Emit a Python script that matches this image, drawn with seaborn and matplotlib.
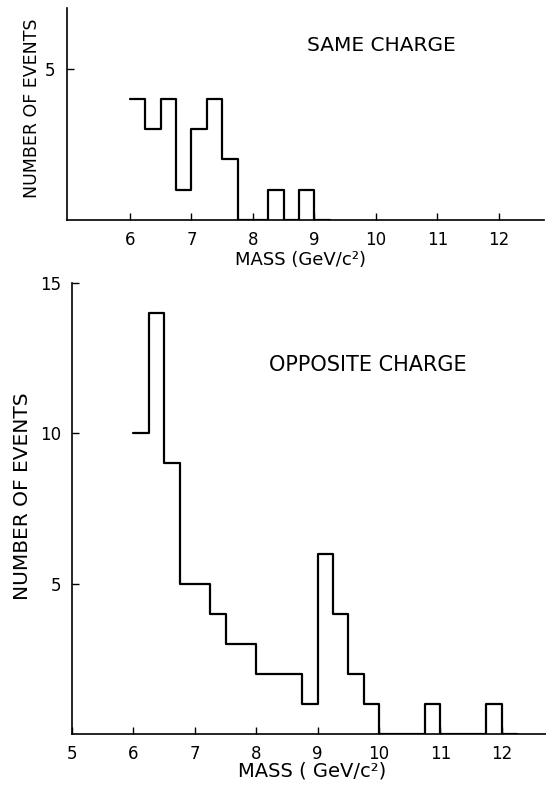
import numpy as np
import pandas as pd
import matplotlib
matplotlib.use("Agg")
import matplotlib.pyplot as plt
import seaborn as sns

# Lower edges of the 0.25 GeV/c^2 mass bins (last entry closes the histogram)
same_bin_lo = [6.00, 6.25, 6.50, 6.75, 7.00, 7.25, 7.50, 7.75, 8.00, 8.25,
               8.50, 8.75, 9.00]
same_counts = [4, 3, 4, 1, 3, 4, 2, 0, 0, 1, 0, 1, 0]

opp_bin_lo = [6.00, 6.25, 6.50, 6.75, 7.00, 7.25, 7.50, 7.75, 8.00, 8.25,
              8.50, 8.75, 9.00, 9.25, 9.50, 9.75, 10.00, 10.25, 10.50, 10.75,
              11.00, 11.25, 11.50, 11.75, 12.00]
opp_counts = [10, 14, 9, 5, 5, 4, 3, 3, 2, 2,
              2, 1, 6, 4, 2, 1, 0, 0, 0, 1,
              0, 0, 0, 1, 0]

bin_width = 0.25
same_ticks = [6, 7, 8, 9, 10, 11, 12]
opp_ticks = [5, 6, 7, 8, 9, 10, 11, 12]

sns.set_theme(style="ticks")
plt.rcParams["font.family"] = ["DejaVu Sans"]
plt.rcParams["text.color"] = "black"
plt.rcParams["axes.labelcolor"] = "black"

fig = plt.figure(figsize=(5.46, 7.92), dpi=100)
ax_top = fig.add_axes([0.122, 0.7222, 0.874, 0.2677])
ax_bot = fig.add_axes([0.132, 0.0732, 0.868, 0.5695])


def step_hist(ax, lo, counts):
    df = pd.DataFrame({"mass": np.asarray(lo) + bin_width / 2,
                       "events": counts})
    edges = list(lo) + [lo[-1] + bin_width]
    sns.histplot(data=df, x="mass", weights="events", bins=edges,
                 element="step", fill=False, color="black",
                 linewidth=1.6, ax=ax)


step_hist(ax_top, same_bin_lo, same_counts)
step_hist(ax_bot, opp_bin_lo, opp_counts)

for ax in (ax_top, ax_bot):
    sns.despine(ax=ax)
    for side in ("left", "bottom"):
        ax.spines[side].set_linewidth(1.2)
        ax.spines[side].set_color("black")
    ax.tick_params(direction="in", length=5, width=1, colors="black",
                   labelsize=12, pad=8)
    ax.set_facecolor("white")

ax_top.set_xlim(4.97, 12.73)
ax_top.set_ylim(0, 7)
ax_top.set_xticks(same_ticks)
ax_top.set_yticks([5])
ax_top.set_xlabel("MASS (GeV/c²)", fontsize=13, va="center")
ax_top.xaxis.set_label_coords(0.491, -0.189)
ax_top.set_ylabel("NUMBER OF EVENTS", fontsize=12.5, va="center")
ax_top.yaxis.set_label_coords(-0.073, 0.528)
ax_top.text(0.659, 0.825, "SAME CHARGE", transform=ax_top.transAxes,
            ha="center", va="center", fontsize=14.5, color="black")

ax_bot.set_xlim(5, 12.72)
ax_bot.set_ylim(0, 15)
ax_bot.set_xticks(opp_ticks)
ax_bot.set_yticks([5, 10, 15])
ax_bot.set_xlabel("MASS ( GeV/c²)", fontsize=14, va="center")
ax_bot.xaxis.set_label_coords(0.506, -0.082)
ax_bot.set_ylabel("NUMBER OF EVENTS", fontsize=14.5, va="center")
ax_bot.yaxis.set_label_coords(-0.105, 0.528)
ax_bot.text(0.624, 0.818, "OPPOSITE CHARGE", transform=ax_bot.transAxes,
            ha="center", va="center", fontsize=15, color="black")

fig.savefig("out.png", dpi=100, facecolor="white")
